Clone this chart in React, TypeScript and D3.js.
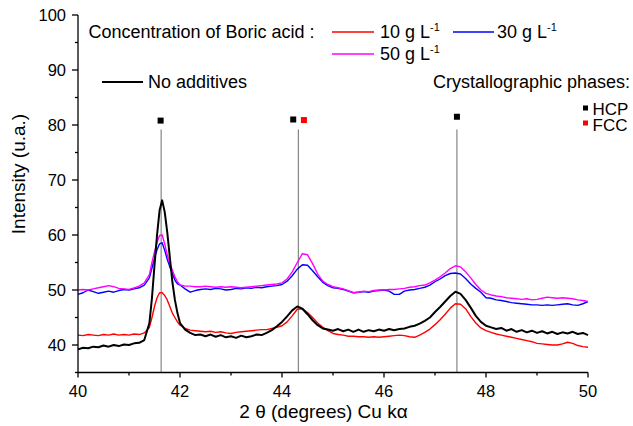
import React from 'react';
import * as d3 from 'd3';

const width = 633;
const height = 426;
const margin = { top: 15, right: 45, bottom: 53.5, left: 78 };

// 2θ sample positions (degrees), finer around the first HCP peak
const twoTheta = [
  40.0, 40.1, 40.2, 40.3, 40.4, 40.5, 40.6, 40.7, 40.8, 40.9,
  41.0, 41.1, 41.2, 41.3, 41.4, 41.45, 41.5, 41.55, 41.6, 41.65,
  41.7, 41.75, 41.8, 41.85, 41.9, 41.95, 42.0, 42.1, 42.2, 42.3,
  42.4, 42.5, 42.6, 42.7, 42.8, 42.9, 43.0, 43.1, 43.2, 43.3,
  43.4, 43.5, 43.6, 43.7, 43.8, 43.9, 44.0, 44.1, 44.2, 44.3,
  44.4, 44.5, 44.6, 44.7, 44.8, 44.9, 45.0, 45.1, 45.2, 45.3,
  45.4, 45.5, 45.6, 45.7, 45.8, 45.9, 46.0, 46.1, 46.2, 46.3,
  46.4, 46.5, 46.6, 46.7, 46.8, 46.9, 47.0, 47.1, 47.2, 47.3,
  47.4, 47.5, 47.6, 47.7, 47.8, 47.9, 48.0, 48.1, 48.2, 48.3,
  48.4, 48.5, 48.6, 48.7, 48.8, 48.9, 49.0, 49.1, 49.2, 49.3,
  49.4, 49.5, 49.6, 49.7, 49.8, 49.9, 50.0,
];

const noAdditives = [
  39.2, 39.5, 39.4, 39.7, 39.6, 39.9, 39.7, 40.0, 39.8, 40.1,
  40.0, 40.3, 40.4, 40.9, 44.0, 48.5, 54.5, 60.0, 64.5, 66.3,
  64.2, 60.5, 56.0, 51.5, 48.2, 45.8, 44.0, 42.8, 42.2, 41.8,
  41.9, 41.6, 41.9, 41.5, 41.8, 41.4, 41.6, 41.3, 41.7, 41.4,
  41.6, 41.9, 41.8, 42.2, 42.7, 43.4, 44.2, 45.2, 46.3, 47.0,
  46.6, 45.6, 44.5, 43.6, 43.0, 42.8, 42.6, 42.9, 42.5, 42.8,
  42.4, 42.8, 42.4, 42.7, 42.5, 42.8, 42.6, 42.9, 42.7, 42.9,
  43.0, 43.3, 43.5, 43.9, 44.4, 45.0, 46.0, 46.9, 47.9, 48.9,
  49.7, 49.3, 48.2, 46.8, 45.3, 44.2, 43.5, 43.2, 42.9, 43.1,
  42.6, 42.9, 42.4, 42.7, 42.3, 42.6, 42.2, 42.5, 42.1, 42.4,
  42.0, 42.3, 42.1, 42.4, 42.0, 42.2, 41.8,
];

const boric10 = [
  41.8, 41.7, 41.9, 41.8, 41.7, 41.9, 41.8, 42.0, 41.8, 41.9,
  41.8, 42.0, 41.9, 42.2, 43.2, 45.0, 47.0, 48.6, 49.5, 49.5,
  49.0, 48.2, 47.0, 45.8, 45.0, 44.2, 43.6, 43.0, 42.7, 42.6,
  42.5, 42.4, 42.5, 42.3, 42.4, 42.2, 42.1, 42.3, 42.4, 42.5,
  42.6, 42.7, 42.8, 42.8, 43.0, 43.2, 43.5, 44.2, 45.3, 46.5,
  46.6, 45.9, 45.0, 44.0, 43.2, 42.6, 42.1, 41.9, 41.8, 41.6,
  41.6, 41.5, 41.5, 41.4, 41.5, 41.4, 41.5, 41.6, 41.7, 41.8,
  41.7, 41.5, 41.4, 41.8, 42.3, 42.9, 43.7, 44.6, 45.6, 46.7,
  47.5, 47.4, 46.6, 45.2, 44.0, 43.1, 42.6, 42.3, 42.0, 41.8,
  41.6, 41.4, 41.2, 41.0, 40.8, 40.6, 40.3, 40.2, 40.1, 40.0,
  40.0, 40.2, 40.5, 40.3, 39.9, 39.7, 39.6,
];

const boric30 = [
  49.2, 49.5, 50.0, 49.7, 49.4, 49.6, 49.8, 49.6, 49.9, 50.1,
  50.0, 50.2, 50.4, 50.9, 52.2, 54.0, 55.8, 57.3, 58.4, 58.6,
  57.2, 55.6, 54.2, 53.0, 51.8, 51.1, 50.9, 50.2, 49.6, 49.9,
  50.1, 50.2, 50.1, 50.3, 50.2, 50.0, 50.1, 50.3, 50.2, 50.4,
  50.3, 50.5, 50.4, 50.6, 50.7, 50.8, 51.0, 51.6, 52.6, 53.8,
  54.6, 54.5, 53.5, 52.4, 51.4, 50.8, 50.4, 50.3, 50.1, 49.8,
  49.5, 49.6, 49.7, 49.6, 49.8, 49.9, 50.0, 49.8, 49.2, 49.2,
  49.8, 50.0, 50.1, 50.3, 50.5, 50.9, 51.5, 52.0, 52.6, 53.0,
  53.1, 52.9, 52.1, 51.1, 50.3, 49.6, 48.6, 48.5, 48.2, 48.1,
  47.9, 47.7, 47.6, 47.5, 47.4, 47.3, 47.3, 47.2, 47.3, 47.2,
  47.3, 47.4, 47.5, 47.3, 47.2, 47.5, 47.9,
];

const boric50 = [
  50.0, 50.1, 50.0, 50.2, 50.4, 50.6, 50.8, 50.6, 50.3, 50.2,
  50.1, 50.4, 50.7, 51.3, 52.8, 55.0, 56.9, 58.7, 59.9, 60.0,
  58.4, 56.4, 54.8, 53.6, 52.4, 51.5, 50.9, 50.7, 50.7, 50.6,
  50.6, 50.7, 50.6, 50.5, 50.6, 50.5, 50.6, 50.5, 50.4, 50.5,
  50.6, 50.7, 50.8, 50.9, 51.0, 51.1, 51.3, 52.0, 53.3, 55.0,
  56.6, 56.4, 54.8, 52.9, 51.6, 51.0, 50.6, 50.4, 50.2, 49.9,
  49.5, 49.6, 49.8, 49.7, 49.9, 50.0, 50.0, 50.1, 50.1, 50.2,
  50.3, 50.5, 50.6, 50.8, 50.9, 51.3, 51.8, 52.4, 53.1, 53.9,
  54.4, 54.2, 53.3, 52.2, 51.0, 50.0, 49.4, 49.1, 48.9, 48.8,
  48.6, 48.5, 48.4, 48.3, 48.4, 48.2, 48.3, 48.5, 48.7, 48.6,
  48.5, 48.6, 48.5, 48.4, 48.2, 48.1, 47.9,
];

// crystallographic phase reference lines and markers
const phaseLines = [41.63, 44.32, 47.43];
const phaseLineTop = 79.2;
const hcpMarkX = [41.62, 44.22, 47.43];
const hcpMarkY = [80.8, 81.0, 81.5];
const fccMarkX = [44.43];
const fccMarkY = [80.9];

const xTicks = [40, 42, 44, 46, 48, 50];
const xMinor = [41, 43, 45, 47, 49];
const yTicks = [40, 50, 60, 70, 80, 90, 100];
const yMinor = [35, 45, 55, 65, 75, 85, 95];

const font = '"Liberation Sans", Arial, sans-serif';

const series = [
  { key: 'boric10', values: boric10, color: '#ff0000', w: 1.4 },
  { key: 'boric30', values: boric30, color: '#0000ff', w: 1.4 },
  { key: 'boric50', values: boric50, color: '#ff00ff', w: 1.4 },
  { key: 'none', values: noAdditives, color: '#000000', w: 2 },
];

const Sup = ({ children }: { children: React.ReactNode }) => (
  <tspan fontSize={11} dy={-7}>{children}</tspan>
);

export default function App() {
  const innerWidth = width - margin.left - margin.right;
  const innerHeight = height - margin.top - margin.bottom;

  const x = d3.scaleLinear().domain([40, 50]).range([0, innerWidth]);
  const y = d3.scaleLinear().domain([35, 100]).range([innerHeight, 0]);

  const line = d3
    .line<number>()
    .x((_, i) => x(twoTheta[i]))
    .y(d => y(d));

  const sq = 6;

  return (
    <svg
      width={width}
      height={height}
      style={{ position: 'absolute', left: 0, top: 0, background: '#fff' }}
      fontFamily={font}
    >
      <g transform={`translate(${margin.left}, ${margin.top})`}>
        {phaseLines.map(p => (
          <line
            key={p}
            x1={x(p)}
            x2={x(p)}
            y1={y(phaseLineTop)}
            y2={innerHeight}
            stroke="#6e6e6e"
            strokeWidth={1}
          />
        ))}
        {hcpMarkX.map((p, i) => (
          <rect
            key={'h' + p}
            x={x(p) - sq / 2}
            y={y(hcpMarkY[i]) - sq / 2}
            width={sq}
            height={sq}
            fill="#000"
          />
        ))}
        {fccMarkX.map((p, i) => (
          <rect
            key={'f' + p}
            x={x(p) - sq / 2}
            y={y(fccMarkY[i]) - sq / 2}
            width={sq}
            height={sq}
            fill="#ff0000"
          />
        ))}

        {series.map(s => (
          <path
            key={s.key}
            d={line(s.values) || ''}
            fill="none"
            stroke={s.color}
            strokeWidth={s.w}
            strokeLinejoin="round"
          />
        ))}

        {/* y axis */}
        <line x1={0} x2={0} y1={0} y2={innerHeight} stroke="#000" strokeWidth={1.3} />
        {yTicks.map(t => (
          <g key={t} transform={`translate(0, ${y(t)})`}>
            <line x1={-6} x2={0} stroke="#000" strokeWidth={1.3} />
            <text x={-12} dy="0.36em" textAnchor="end" fontSize={16.5}>{t}</text>
          </g>
        ))}
        {yMinor.map(t => (
          <line key={t} x1={-3} x2={0} y1={y(t)} y2={y(t)} stroke="#000" strokeWidth={1.3} />
        ))}

        {/* x axis */}
        <line x1={0} x2={innerWidth} y1={innerHeight} y2={innerHeight} stroke="#000" strokeWidth={1.3} />
        {xTicks.map(t => (
          <g key={t} transform={`translate(${x(t)}, ${innerHeight})`}>
            <line y1={0} y2={5} stroke="#000" strokeWidth={1.3} />
            <text y={24.5} textAnchor="middle" fontSize={16.5}>{t}</text>
          </g>
        ))}
        {xMinor.map(t => (
          <line key={t} x1={x(t)} x2={x(t)} y1={innerHeight} y2={innerHeight + 3} stroke="#000" strokeWidth={1.3} />
        ))}
      </g>

      {/* axis titles */}
      <text x={323.5} y={418} textAnchor="middle" fontSize={19}>
        2 θ (degrees) Cu kα
      </text>
      <text
        transform="translate(25, 174) rotate(-90)"
        textAnchor="middle"
        fontSize={19}
      >
        Intensity (u.a.)
      </text>

      {/* legend */}
      <g fontSize={18}>
        <text x={88.5} y={38}>Concentration of Boric acid :</text>
        <line x1={332} x2={374} y1={32} y2={32} stroke="#ff0000" strokeWidth={1.4} />
        <text x={380} y={38}>10 g L<Sup>-1</Sup></text>
        <line x1={453} x2={494} y1={32} y2={32} stroke="#0000ff" strokeWidth={1.4} />
        <text x={497} y={38}>30 g L<Sup>-1</Sup></text>
        <line x1={332} x2={374} y1={54} y2={54} stroke="#ff00ff" strokeWidth={1.4} />
        <text x={380} y={60}>50 g L<Sup>-1</Sup></text>
        <line x1={102} x2={143} y1={82} y2={82} stroke="#000" strokeWidth={2} />
        <text x={148} y={88}>No additives</text>
        <text x={433} y={88}>Crystallographic phases:</text>
        <rect x={583} y={105.5} width={5} height={5} fill="#000" />
        <text x={592.5} y={114.5} fontSize={17}>HCP</text>
        <rect x={583} y={120.5} width={5} height={5} fill="#ff0000" />
        <text x={592.5} y={130.5} fontSize={17}>FCC</text>
      </g>
    </svg>
  );
}
